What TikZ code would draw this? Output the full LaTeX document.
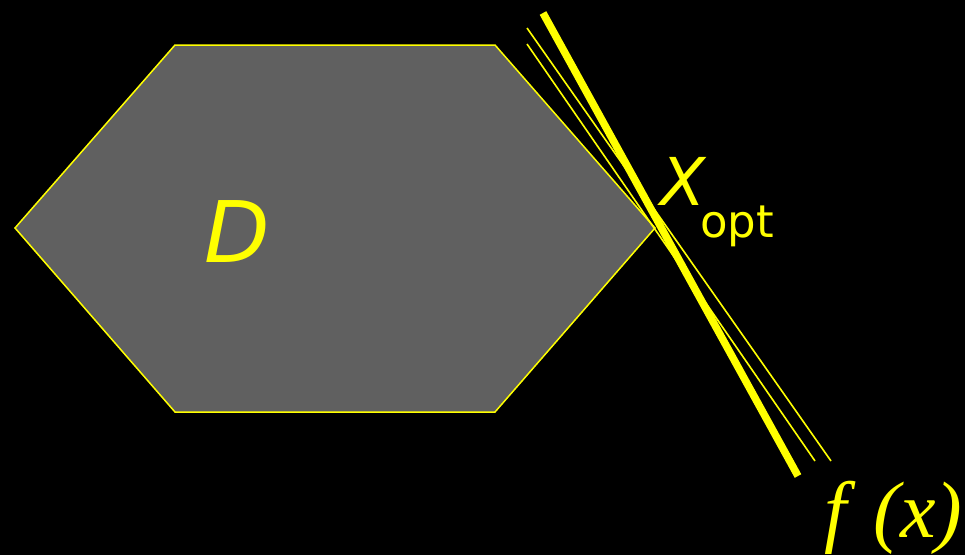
\documentclass[tikz,border=0pt]{standalone}
\usepackage{fontspec}
\newfontfamily\labsans{DejaVu Sans}
\newfontfamily\labserif{Liberation Serif}
\definecolor{hexgray}{RGB}{96,96,96}
\definecolor{ylw}{RGB}{255,255,0}
\begin{document}
\begin{tikzpicture}[x=1pt,y=-1pt,
  hexstyle/.style={fill=hexgray,draw=ylw,line width=1.5pt,line join=miter},
  thickln/.style={draw=ylw,line width=7.5pt},
  thinln/.style={draw=ylw,line width=1.6pt},
  lab/.style={text=ylw,inner sep=0pt}]
\fill[black] (0,0) rectangle (965,555);
\useasboundingbox (0,0) rectangle (965,555);
\coordinate (h1) at (15,228);
\coordinate (h2) at (175,45);
\coordinate (h3) at (495,45);
\coordinate (h4) at (655,228);
\coordinate (h5) at (495,412);
\coordinate (h6) at (175,412);
\draw[hexstyle] (h1) -- (h2) -- (h3) -- (h4) -- (h5) -- (h6) -- cycle;
\coordinate (a1) at (527,28);
\coordinate (a2) at (831,461);
\coordinate (b1) at (527,44);
\coordinate (b2) at (815,461);
\coordinate (c1) at (543,13);
\coordinate (c2) at (798,476);
\draw[thinln] (a1) -- (a2);
\draw[thinln] (b1) -- (b2);
\draw[thickln] (c1) -- (c2);
\node[lab,anchor=base west] (D) at (204,262) {\fontsize{85}{85}\labsans\itshape D};
\node[lab,anchor=base west] (X) at (660,205) {\fontsize{66}{66}\labsans\itshape X};
\node[lab,anchor=base west] (opt) at (700,237) {\fontsize{45}{45}\labsans opt};
\node[lab,anchor=base west] (f) at (824,537) {\fontsize{80}{80}\labserif\itshape f\hspace{27pt}(x)};
\end{tikzpicture}
\end{document}
